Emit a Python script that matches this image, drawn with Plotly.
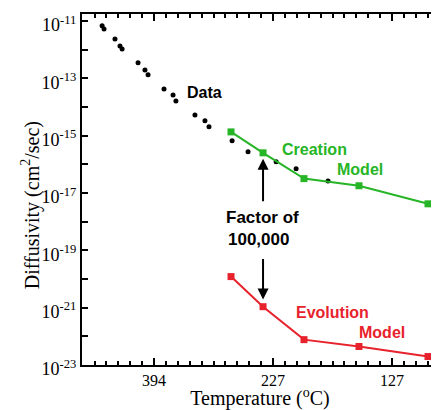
import plotly.graph_objects as go

# 1000/T (K) positions; tick labels in degrees C
data_x = [1.282, 1.290, 1.336, 1.357, 1.366, 1.433, 1.462, 1.475, 1.542, 1.580,
          1.592, 1.672, 1.714, 1.731, 1.828, 1.895, 2.013, 2.097, 2.231]
data_logy = [-11.17, -11.28, -11.63, -11.87, -11.98, -12.46, -12.71, -12.88, -13.37, -13.58,
             -13.79, -14.28, -14.48, -14.69, -15.18, -15.56, -15.91, -16.16, -16.58]

model_x = [1.8235, 1.958, 2.130, 2.361, 2.651]
creation_logy = [-14.87, -15.60, -16.50, -16.75, -17.38]
evolution_logy = [-19.92, -20.97, -22.12, -22.36, -22.71]

x_tickvals = [1.5, 2.0, 2.5]
x_ticktext = ["394", "227", "127"]
y_exps = list(range(-23, -10))

GREEN = "#26b526"
RED = "#e8222c"

fig = go.Figure()
fig.add_trace(go.Scatter(x=data_x, y=[10 ** v for v in data_logy], mode="markers",
                         marker=dict(color="black", size=5, symbol="circle"),
                         showlegend=False))
fig.add_trace(go.Scatter(x=model_x, y=[10 ** v for v in creation_logy], mode="lines+markers",
                         line=dict(color=GREEN, width=2),
                         marker=dict(color=GREEN, size=7, symbol="square"),
                         showlegend=False))
fig.add_trace(go.Scatter(x=model_x, y=[10 ** v for v in evolution_logy], mode="lines+markers",
                         line=dict(color=RED, width=2),
                         marker=dict(color=RED, size=7, symbol="square"),
                         showlegend=False))

bold = "Liberation Sans, Arial, sans-serif"
def txt(x, ylog, s, color, size=16):
    fig.add_annotation(x=x, y=ylog, text="<b>%s</b>" % s, showarrow=False,
                       font=dict(family=bold, size=size, color=color))

txt(1.714, -13.51, "Data", "black")
txt(2.176, -15.49, "Creation", GREEN)
txt(2.366, -16.19, "Model", GREEN)
txt(2.248, -21.17, "Evolution", RED)
txt(2.458, -21.87, "Model", RED)
txt(1.954, -17.86, "Factor of", "black", 17)
txt(1.941, -18.63, "100,000", "black", 17)

# arrows
fig.add_annotation(x=1.958, y=-15.81, ax=0, ay=44, showarrow=True, arrowhead=2,
                   arrowsize=1.1, arrowwidth=2, arrowcolor="black", text="")
fig.add_annotation(x=1.958, y=-20.72, ax=0, ay=-42, showarrow=True, arrowhead=2,
                   arrowsize=1.1, arrowwidth=2, arrowcolor="black", text="")

serif = "Liberation Serif, Times New Roman, serif"

# y-axis title as rotated text, placed a little below the plot centre as in the reference
fig.add_annotation(xref="paper", yref="paper", x=-0.183, y=0.456, textangle=-90,
                   text="Diffusivity (cm<sup>2</sup>/sec)", showarrow=False,
                   font=dict(family=serif, size=20, color="black"))

# page body has an 8px margin, so the figure is sized to fit the 439x410 window
fig.update_layout(
    width=431, height=402,
    margin=dict(l=74, r=1, t=6, b=45),
    paper_bgcolor="white", plot_bgcolor="white",
    font=dict(family=serif, color="black"),
    xaxis=dict(range=[1.1975, 2.693], tickvals=x_tickvals, ticktext=x_ticktext,
               ticks="inside", ticklen=7, tickwidth=2, tickcolor="black",
               minor=dict(dtick=0.05, tick0=0, ticks="inside", ticklen=4, tickwidth=2, tickcolor="black"),
               showline=True, linecolor="black", linewidth=2, mirror="ticks",
               showgrid=False, zeroline=False, automargin=False,
               tickfont=dict(family=serif, size=16),
               title=dict(text="Temperature (<sup>o</sup>C)", font=dict(family=serif, size=20), standoff=3)),
    yaxis=dict(type="log", range=[-23.005, -10.756],
               tickvals=[10 ** e for e in y_exps],
               ticktext=["10<sup>%d</sup>" % e if e % 2 else "" for e in y_exps],
               ticks="inside", ticklen=6, tickwidth=2, tickcolor="black",
               showline=True, linecolor="black", linewidth=2, mirror="ticks",
               showgrid=False, zeroline=False, automargin=False,
               tickfont=dict(family=serif, size=18), ticklabelshift=4,
               ticklabeloverflow="allow"),
)

fig.write_html("out.html")
